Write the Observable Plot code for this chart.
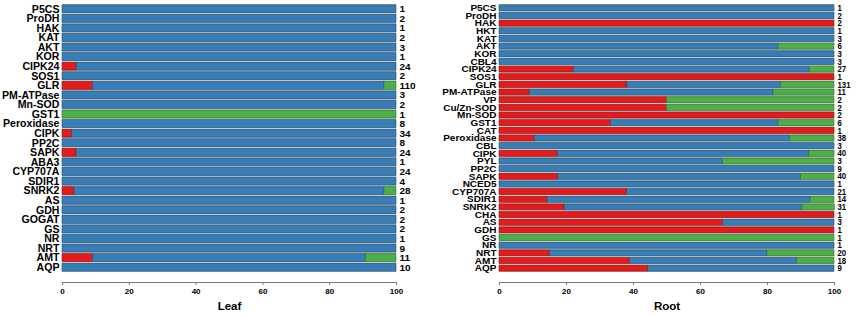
<!DOCTYPE html>
<html>
<head>
<meta charset="utf-8">
<script src="https://cdn.jsdelivr.net/npm/d3@7"></script>
<script src="https://cdn.jsdelivr.net/npm/@observablehq/plot@0.6"></script>
<style>
  body { margin: 0; background: #fff; }
  #wrap { display: flex; width: 856px; height: 316px; }
</style>
</head>
<body>
<div id="wrap"></div>
<script>
// ---- Leaf panel ----
const leafGenes = ["P5CS","ProDH","HAK","KAT","AKT","KOR","CIPK24","SOS1","GLR","PM-ATPase","Mn-SOD","GST1","Peroxidase","CIPK","PP2C","SAPK","ABA3","CYP707A","SDIR1","SNRK2","AS","GDH","GOGAT","GS","NR","NRT","AMT","AQP"];
const leafRed   = [0,0,0,0,0,0,4.2,0,9.1,0,0,0,0,2.9,0,4.2,0,0,0,3.6,0,0,0,0,0,0,9.1,0];
const leafBlue  = [100,100,100,100,100,100,95.8,100,87.3,100,100,0,100,97.1,100,95.8,100,100,100,92.8,100,100,100,100,100,100,81.8,100];
const leafGreen = [0,0,0,0,0,0,0,0,3.6,0,0,100,0,0,0,0,0,0,0,3.6,0,0,0,0,0,0,9.1,0];
const leafCounts = [1,2,1,2,3,1,24,2,110,3,2,1,8,34,8,24,1,24,4,28,1,2,2,2,1,9,11,10];

// ---- Root panel ----
const rootGenes = ["P5CS","ProDH","HAK","HKT","KAT","AKT","KOR","CBL4","CIPK24","SOS1","GLR","PM-ATPase","VP","Cu/Zn-SOD","Mn-SOD","GST1","CAT","Peroxidase","CBL","CIPK","PYL","PP2C","SAPK","NCED5","CYP707A","SDIR1","SNRK2","CHA","AS","GDH","GS","NR","NRT","AMT","AQP"];
const rootRed   = [0,0,100,0,0,0,0,0,22.2,100,38.2,9.1,50,50,100,33.3,100,10.5,0,17.5,0,0,17.5,0,38.1,14.3,19.4,100,66.7,100,0,0,15,38.9,44.4];
const rootBlue  = [100,100,0,100,100,83.3,100,100,70.4,0,45.8,72.7,0,0,0,50,0,76.3,100,75,66.7,100,72.5,100,61.9,78.6,71,0,33.3,0,0,100,65,50,55.6];
const rootGreen = [0,0,0,0,0,16.7,0,0,7.4,0,16,18.2,50,50,0,16.7,0,13.2,0,7.5,33.3,0,10,0,0,7.1,9.7,0,0,0,100,0,20,11.1,0];
const rootCounts = [1,2,2,1,3,6,3,3,27,1,131,11,2,2,2,6,1,38,3,40,3,9,40,1,21,14,31,1,3,1,1,1,20,18,9];

const xTicks = [0,20,40,60,80,100];
const classes = ["red","blue","green"];
const colors = ["#E41A1C","#377EB8","#4DAF4A"];
const strokes = ["#8a1416","#24527a","#2f7a2c"];

function tidy(genes, red, blue, green) {
  const out = [];
  genes.forEach((g, i) => {
    out.push({gene: g, cls: "red", value: red[i]});
    out.push({gene: g, cls: "blue", value: blue[i]});
    out.push({gene: g, cls: "green", value: green[i]});
  });
  return out.filter(d => d.value > 0);
}

function squash(svg, selector, sx, sy) {
  d3.select(svg).selectAll(selector).each(function() {
    const t = this.getAttribute("transform") || "";
    this.setAttribute("transform", t + ` scale(${sx},${sy})`);
  });
}

function panel({genes, red, blue, green, counts, title, marginLeft, marginRight, labelSize, countSize, inset, labelScale, countScale}) {
  const data = tidy(genes, red, blue, green);
  const countData = genes.map((g, i) => ({gene: g, n: counts[i]}));
  const svg = Plot.plot({
    width: 428,
    height: 316,
    marginTop: 0,
    marginBottom: 34,
    marginLeft,
    marginRight,
    style: {fontFamily: "'Liberation Sans', Arial, sans-serif", fontWeight: "bold", background: "transparent"},
    x: {domain: [0, 100], ticks: xTicks},
    y: {domain: genes, range: [4, 272], padding: 0, round: false},
    marks: [
      Plot.barX(genes, {y: d => d, x1: 0, x2: 100, fill: "#b9b3ab"}),
      Plot.barX(data, Plot.stackX({y: "gene", x: "value", order: classes, z: "cls",
        fill: d => colors[classes.indexOf(d.cls)],
        stroke: d => strokes[classes.indexOf(d.cls)], strokeWidth: 0.6, insetTop: inset, insetBottom: inset})),
      Plot.text(countData, {y: "gene", x: 100, text: d => String(d.n), textAnchor: "start", dx: 3, fontSize: countSize, fill: "#000", className: "cnt"}),
      Plot.axisY({tickSize: 0, tickPadding: 3, fontSize: labelSize, fontWeight: "bold", label: null, className: "ylab"}),
      Plot.axisX({ticks: xTicks, tickSize: 3, tickPadding: 3, fontSize: 8, fontWeight: "bold", label: null, stroke: "#777"}),
      Plot.frame({anchor: "bottom", stroke: "#777"}),
      Plot.text([title], {frameAnchor: "bottom", dy: 27, fontSize: 11.5, fontWeight: "bold", fill: "#000"})
    ]
  });
  squash(svg, "g.ylab text", labelScale[0], labelScale[1]);
  squash(svg, "g.cnt text", countScale[0], countScale[1]);
  return svg;
}

const wrap = document.getElementById("wrap");
wrap.appendChild(panel({genes: leafGenes, red: leafRed, blue: leafBlue, green: leafGreen, counts: leafCounts,
  title: "Leaf", marginLeft: 62, marginRight: 32, labelSize: 10, countSize: 9.5, inset: 0.9,
  labelScale: [1.06, 1], countScale: [1.05, 1]}));
wrap.appendChild(panel({genes: rootGenes, red: rootRed, blue: rootBlue, green: rootGreen, counts: rootCounts,
  title: "Root", marginLeft: 71, marginRight: 22, labelSize: 10, countSize: 9.5, inset: 0.9,
  labelScale: [1, 0.85], countScale: [0.82, 0.88]}));
</script>
</body>
</html>
